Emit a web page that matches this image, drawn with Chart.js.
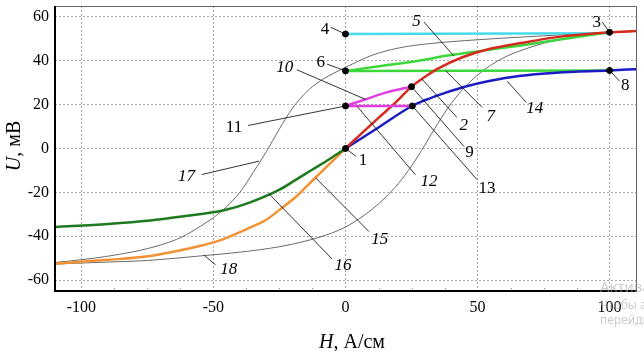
<!DOCTYPE html>
<html>
<head>
<meta charset="utf-8">
<script src="https://cdn.jsdelivr.net/npm/chart.js@4.4.1/dist/chart.umd.min.js"></script>
<style>
  html, body { margin: 0; padding: 0; background: #fff; }
  canvas { display: block; }
</style>
</head>
<body>
<canvas id="chart" width="644" height="351"></canvas>
<script>
// axis ticks
const xTicks = [-100, -50, 0, 50, 100];
const yTicks = [-60, -40, -20, 0, 20, 40, 60];
const xMinor = [-87.5, -75, -62.5, -37.5, -25, -12.5, 12.5, 25, 37.5, 62.5, 75, 87.5];

// major loop (gray), branch 17 and 18
const upperH = [-110, -95, -80, -70, -62, -55, -50, -45, -40, -35, -30, -25, -20, -15, -10, -5, 0, 10, 20, 30, 50, 75, 100, 110];
const upperU = [-52, -50, -47, -44, -40.4, -35.5, -31.5, -26.5, -20, -11, -1.5, 9, 18.5, 25.5, 30.5, 34, 37, 42.5, 45.8, 47.6, 49.6, 51.4, 53, 53.4];
const lowerH = [-110, -90, -75, -55, -40, -25, -15, -10, -5, 0, 5, 10, 15, 20, 25, 30, 35, 40, 45, 50, 55, 60, 66, 75, 88, 100, 110];
const lowerU = [-52.7, -51.8, -51.1, -49, -47.3, -44.8, -42.2, -40.5, -38.5, -35.8, -32.2, -27.8, -22.5, -16, -8, 1.5, 11.5, 20.5, 27.8, 33.5, 38, 41.5, 44.5, 48, 51.2, 53, 53.6];

// colored curves
const darkGreenH = [-110, -90, -74, -62, -46, -36.6, -25, -18.7, -12.5, -6, 0];
const darkGreenU = [-35.8, -34.4, -32.8, -31, -28.2, -24.8, -18.8, -14.2, -9.6, -4.8, 0];
const orangeH = [-110, -90, -74, -62, -49, -37, -30, -25, -18, -12.5, -6, 0];
const orangeU = [-52.5, -50.8, -49, -46.3, -42.5, -36.5, -32.5, -28, -21.2, -14.6, -7, 0];
const redH = [0, 6, 12.5, 19, 25, 30, 35, 44, 54, 66, 80, 100, 110];
const redU = [0, 6.8, 14, 21, 28.2, 32.6, 36.4, 41.5, 45.3, 48, 50.8, 53, 53.6];
const blueH = [0, 12.5, 25.3, 30, 38, 45.5, 54.4, 65.7, 80, 100, 110];
const blueU = [0, 9.6, 19.5, 22, 25.5, 28.3, 30.8, 33.1, 34.6, 35.6, 36.2];
const magentaH = [0, 7.6, 15.2, 25];
const magentaU = [19.4, 22.4, 25.5, 28.2];
const magentaFlatH = [0, 25.3];
const magentaFlatU = [19.4, 19.4];
const greenH = [0, 12.7, 30, 38, 50, 65.7, 80, 100];
const greenU = [35.4, 37.5, 40.5, 42.3, 44.3, 46.9, 49.5, 53];
const greenFlatH = [0, 100];
const greenFlatU = [35.4, 35.6];
const cyanH = [0, 100];
const cyanU = [52.2, 52.6];

// marked points
const dotH = [0, 0, 0, 0, 25, 25.3, 100, 100];
const dotU = [0, 19.4, 35.4, 52.2, 28.2, 19.4, 53, 35.6];

// labels: text, H, U, italic
const labelText = ["4", "5", "3", "6", "10", "7", "2", "9", "13", "12", "14", "8", "11", "1", "17", "15", "16", "18"];
const labelH = [-7.8, 26.9, 95.1, -9.4, -23, 55, 44.8, 47, 53.6, 31.6, 71.7, 105.9, -42.2, 6.6, -60.2, 13, -0.9, -44.2];
const labelU = [54.5, 58.3, 57.9, 39.6, 37.3, 15.2, 11, -1.6, -17.6, -14.6, 18.6, 29.2, 10.2, -5, -12.4, -40.9, -52.7, -54.9];
const labelItalic = [false, true, false, false, true, true, true, false, false, true, true, false, false, false, true, true, true, true];

// leader lines: from (H1,U1) to (H2,U2)
const leadH1 = [-5.6, 29.7, 97.2, -7, -18.4, 38, 29, 25, 25.3, 4.4, 61.2, 100, -36.9, 0, -54.5, -11.3, -29, -53.6];
const leadU1 = [55.3, 57.7, 57.7, 38.5, 35.9, 35.4, 31.6, 28.2, 19.4, 19.2, 30.7, 35.6, 10.5, 0, -11.9, -13.4, -20.6, -48.6];
const leadH2 = [0, 41.1, 100, 0, 7.6, 51.7, 42.2, 44.9, 49.8, 26.5, 68.4, 103.8, 0, 3.9, -32.8, 8.9, -5.1, -49.2];
const leadU2 = [52.2, 42.1, 53, 35.4, 22.4, 18.8, 14.2, 0.9, -14.2, -12, 21.1, 30.7, 19.4, -3.5, -5.8, -37.9, -50.4, -53.1];

const SERIF = '"Liberation Serif", "DejaVu Serif", serif';

function toPts(hs, us) {
    return hs.map((h, i) => ({ x: h, y: us[i] }));
}

function curve(hs, us, color, width) {
    return {
        data: toPts(hs, us),
        showLine: true,
        borderColor: color,
        borderWidth: width,
        pointRadius: 0,
        tension: 0.4,
        cubicInterpolationMode: "monotone",
        fill: false,
    };
}

const annotations = {
    id: "annotations",
    afterDatasetsDraw(chart) {
        const ctx = chart.ctx;
        const xs = chart.scales.x;
        const ys = chart.scales.y;
        const area = chart.chartArea;

        ctx.save();
        // leaders
        ctx.strokeStyle = "#000";
        ctx.lineWidth = 0.8;
        leadH1.forEach((h, i) => {
            ctx.beginPath();
            ctx.moveTo(xs.getPixelForValue(h), ys.getPixelForValue(leadU1[i]));
            ctx.lineTo(xs.getPixelForValue(leadH2[i]), ys.getPixelForValue(leadU2[i]));
            ctx.stroke();
        });

        // labels
        ctx.fillStyle = "#000";
        ctx.textAlign = "center";
        ctx.textBaseline = "middle";
        labelText.forEach((t, i) => {
            ctx.font = (labelItalic[i] ? "italic " : "") + "17px " + SERIF;
            ctx.fillText(t, xs.getPixelForValue(labelH[i]), ys.getPixelForValue(labelU[i]) + 1);
        });

        // minor ticks on the bottom axis
        ctx.strokeStyle = "#888";
        ctx.lineWidth = 1;
        ctx.setLineDash([1, 1]);
        xMinor.forEach((v) => {
            const px = Math.round(xs.getPixelForValue(v)) + 0.5;
            ctx.beginPath();
            ctx.moveTo(px, area.bottom);
            ctx.lineTo(px, area.bottom - 4);
            ctx.stroke();
        });
        ctx.setLineDash([]);

        // frame
        ctx.strokeStyle = "#666";
        ctx.lineWidth = 1;
        ctx.beginPath();
        ctx.moveTo(area.left, area.top + 0.5);
        ctx.lineTo(area.right + 0.5, area.top + 0.5);
        ctx.lineTo(area.right + 0.5, area.bottom);
        ctx.stroke();
        ctx.strokeStyle = "#000";
        ctx.lineWidth = 2;
        ctx.beginPath();
        ctx.moveTo(area.left, area.top);
        ctx.lineTo(area.left, area.bottom);
        ctx.lineTo(area.right + 1, area.bottom);
        ctx.stroke();

        // axis titles
        ctx.textBaseline = "alphabetic";
        ctx.textAlign = "left";
        const xParts = [["italic 20px ", "H"], ["20px ", ", А/см"]];
        let w = 0;
        xParts.forEach((p) => { ctx.font = p[0] + SERIF; w += ctx.measureText(p[1]).width; });
        let cx = 352 - w / 2;
        xParts.forEach((p) => {
            ctx.font = p[0] + SERIF;
            ctx.fillText(p[1], cx, 348);
            cx += ctx.measureText(p[1]).width;
        });

        ctx.save();
        ctx.translate(20, 146);
        ctx.rotate(-Math.PI / 2);
        const yParts = [["italic 20px ", "U"], ["20px ", ", мВ"]];
        w = 0;
        yParts.forEach((p) => { ctx.font = p[0] + SERIF; w += ctx.measureText(p[1]).width; });
        cx = -w / 2;
        yParts.forEach((p) => {
            ctx.font = p[0] + SERIF;
            ctx.fillText(p[1], cx, 0);
            cx += ctx.measureText(p[1]).width;
        });
        ctx.restore();

        // faint watermark at the corner
        ctx.fillStyle = "rgba(170,170,170,0.6)";
        ctx.font = "15px \"Noto Sans\", sans-serif";
        ctx.fillText("Активация Windows", 600, 292);
        ctx.font = "12px \"Noto Sans\", sans-serif";
        ctx.fillText("Чтобы активировать Windows,", 600, 309);
        ctx.fillText("перейдите в раздел «Параметры».", 600, 324);

        ctx.restore();
    },
};

new Chart(document.getElementById("chart"), {
    type: "scatter",
    data: {
        datasets: [
            {
                data: toPts(dotH, dotU),
                pointRadius: 3,
                pointBackgroundColor: "#000",
                pointBorderColor: "#000",
                showLine: false,
            },
            curve(magentaH, magentaU, "#e03ee0", 2.5),
            curve(magentaFlatH, magentaFlatU, "#e03ee0", 2.5),
            curve(redH, redU, "#d42a20", 2.5),
            curve(blueH, blueU, "#1c1cc4", 2.5),
            curve(greenH, greenU, "#3ad83a", 2.5),
            curve(greenFlatH, greenFlatU, "#3ad83a", 2.5),
            curve(cyanH, cyanU, "#44dce8", 2.5),
            curve(darkGreenH, darkGreenU, "#1e7a1e", 2.5),
            curve(orangeH, orangeU, "#f39233", 2.5),
            curve(upperH, upperU, "#6a6a6a", 1),
            curve(lowerH, lowerU, "#6a6a6a", 1),
        ],
    },
    options: {
        responsive: false,
        animation: false,
        devicePixelRatio: 1,
        layout: { padding: { top: 6, right: 8, left: 0, bottom: 0 } },
        plugins: {
            legend: { display: false },
            tooltip: { enabled: false },
        },
        scales: {
            x: {
                type: "linear",
                min: -110,
                max: 110,
                afterBuildTicks: (scale) => { scale.ticks = xTicks.map((v) => ({ value: v })); },
                afterFit: (scale) => {
                    scale.height = 60;
                    scale.paddingLeft = 0;
                    scale.paddingRight = 0;
                },
                ticks: {
                    color: "#000",
                    padding: 7,
                    font: { family: SERIF, size: 16 },
                },
                grid: { color: "#a8a8a8", lineWidth: 1, drawTicks: false },
                border: { display: false, dash: [2, 2] },
            },
            y: {
                type: "linear",
                min: -65,
                max: 65,
                afterBuildTicks: (scale) => { scale.ticks = yTicks.map((v) => ({ value: v })); },
                afterFit: (scale) => {
                    scale.width = 55;
                    scale.paddingTop = 0;
                    scale.paddingBottom = 0;
                },
                ticks: {
                    color: "#000",
                    padding: 6,
                    font: { family: SERIF, size: 16 },
                },
                grid: { color: "#a8a8a8", lineWidth: 1, drawTicks: false },
                border: { display: false, dash: [2, 2] },
            },
        },
    },
    plugins: [annotations],
});
</script>
</body>
</html>
